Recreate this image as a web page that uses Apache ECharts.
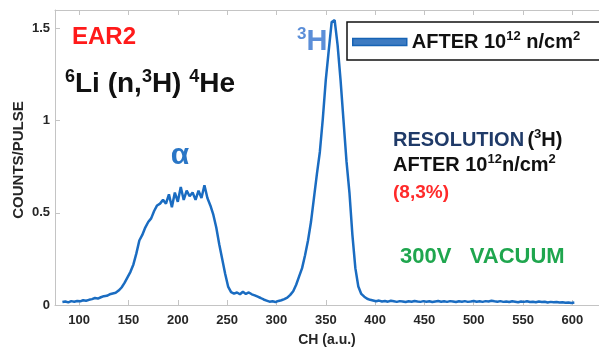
<!DOCTYPE html>
<html>
<head>
<meta charset="utf-8">
<script src="https://cdn.jsdelivr.net/npm/echarts@6/dist/echarts.min.js"></script>
<style>
  html, body { margin: 0; padding: 0; background: #fff; }
  #chart { width: 599px; height: 352px; }
</style>
</head>
<body>
<div id="chart"></div>
<script>
// channel numbers (x) and counts per pulse (y)
const channels = [
  83, 86, 89, 92, 95, 98, 101, 104, 107, 110,
  113, 116, 119, 122, 125, 128, 131, 134, 137, 140,
  143, 146, 149, 152, 155, 158, 161, 164, 167, 170,
  173, 176, 179, 182, 185, 188, 191, 194, 197, 200,
  203, 206, 209, 212, 215, 218, 221, 224, 227, 230,
  233, 236, 239, 242, 245, 248, 251, 254, 257, 260,
  263, 266, 269, 272, 275, 278, 281, 284, 287, 290,
  293, 296, 299, 302, 305, 308, 311, 314, 317, 320,
  323, 326, 329, 332, 335, 338, 341, 344, 347, 350,
  353, 356, 359, 362, 365, 368, 371, 374, 377, 380,
  383, 386, 389, 392, 395, 398, 401, 404, 407, 410,
  413, 416, 419, 422, 425, 428, 431, 434, 437, 440,
  443, 446, 449, 452, 455, 458, 461, 464, 467, 470,
  473, 476, 479, 482, 485, 488, 491, 494, 497, 500,
  503, 506, 509, 512, 515, 518, 521, 524, 527, 530,
  533, 536, 539, 542, 545, 548, 551, 554, 557, 560,
  563, 566, 569, 572, 575, 578, 581, 584, 587, 590,
  593, 596, 599, 602
];
const counts = [
  0.016, 0.019, 0.014, 0.021, 0.018, 0.022, 0.020, 0.026, 0.023, 0.028,
  0.032, 0.038, 0.035, 0.042, 0.048, 0.050, 0.058, 0.062, 0.066, 0.078,
  0.095, 0.120, 0.150, 0.180, 0.220, 0.280, 0.350, 0.380, 0.420, 0.450,
  0.470, 0.510, 0.540, 0.550, 0.570, 0.550, 0.600, 0.530, 0.610, 0.560,
  0.640, 0.570, 0.620, 0.590, 0.610, 0.570, 0.620, 0.580, 0.650, 0.580,
  0.540, 0.490, 0.420, 0.330, 0.250, 0.170, 0.100, 0.070, 0.062, 0.068,
  0.058, 0.072, 0.060, 0.068, 0.058, 0.052, 0.045, 0.038, 0.030, 0.024,
  0.018, 0.020, 0.016, 0.022, 0.026, 0.032, 0.040, 0.055, 0.075, 0.110,
  0.155, 0.200, 0.270, 0.350, 0.450, 0.580, 0.710, 0.830, 1.010, 1.220,
  1.380, 1.535, 1.545, 1.410, 1.220, 1.000, 0.780, 0.610, 0.380, 0.200,
  0.100, 0.060, 0.045, 0.034, 0.028, 0.024, 0.020, 0.024, 0.019, 0.022,
  0.018, 0.023, 0.020, 0.017, 0.021, 0.019, 0.016, 0.020, 0.018, 0.022,
  0.019, 0.017, 0.021, 0.018, 0.020, 0.016, 0.019, 0.022, 0.018, 0.020,
  0.017, 0.021, 0.019, 0.016, 0.020, 0.018, 0.021, 0.017, 0.019, 0.022,
  0.018, 0.020, 0.017, 0.021, 0.019, 0.023, 0.020, 0.018, 0.021, 0.017,
  0.019, 0.016, 0.020, 0.018, 0.015, 0.019, 0.017, 0.020, 0.016, 0.018,
  0.015, 0.019, 0.016, 0.018, 0.014, 0.017, 0.015, 0.016, 0.013, 0.015,
  0.012, 0.014, 0.011, 0.013
];
const xTicks = [100, 150, 200, 250, 300, 350, 400, 450, 500, 550, 600];
const yTicks = [0, 0.5, 1, 1.5];
const seriesName = 'AFTER 10^12 n/cm^2';

const font = 'Arial, "Liberation Sans", sans-serif';
const axisGray = '#c4c4c4';
const labelStyle = { fontFamily: font, fontSize: 13, fontWeight: 'bold', color: '#262626' };

const chart = echarts.init(document.getElementById('chart'));

// rich text pieces; graphic text wants fill, legend text wants color
const sup = (size, color) => ({
  fontFamily: font, fontSize: size, fontWeight: 'bold', color: color, fill: color,
  verticalAlign: 'top', lineHeight: size
});
const txt = (size, color) => ({
  fontFamily: font, fontSize: size, fontWeight: 'bold', color: color, fill: color,
  lineHeight: size + 4
});

chart.setOption({
  animation: false,
  grid: { left: 55, top: 10, right: 0, bottom: 43 },
  xAxis: [
    {
      type: 'value',
      min: 75.5,
      max: 627,
      name: 'CH (a.u.)',
      nameLocation: 'middle',
      nameGap: 28,
      nameTextStyle: { fontFamily: font, fontSize: 14, fontWeight: 'bold', color: '#262626' },
      axisLine: { show: true, onZero: false, lineStyle: { color: axisGray, width: 1 } },
      axisTick: { inside: true, length: 5, customValues: xTicks, lineStyle: { color: axisGray } },
      axisLabel: Object.assign({ customValues: xTicks, margin: 9 }, labelStyle),
      splitLine: { show: false }
    },
    {
      type: 'value',
      position: 'top',
      min: 75.5,
      max: 627,
      axisLine: { show: true, onZero: false, lineStyle: { color: axisGray, width: 1 } },
      axisTick: { inside: true, length: 5, customValues: xTicks, lineStyle: { color: axisGray } },
      axisLabel: { show: false },
      splitLine: { show: false }
    }
  ],
  yAxis: {
    type: 'value',
    min: 0,
    max: 1.6,
    axisLine: { show: true, onZero: false, lineStyle: { color: axisGray, width: 1 } },
    axisTick: { show: true, inside: true, length: 5, customValues: yTicks, lineStyle: { color: axisGray } },
    axisLabel: Object.assign({ customValues: yTicks, margin: 5 }, labelStyle),
    splitLine: { show: false }
  },
  legend: {
    left: 347,
    top: 22,
    padding: [8, 40, 8, 5],
    icon: 'rect',
    itemWidth: 54,
    itemHeight: 7,
    backgroundColor: '#fff',
    borderColor: '#111',
    borderWidth: 1.5,
    itemStyle: { color: '#3d7bc2', borderColor: '#1763b5', borderWidth: 1.5 },
    formatter: () => '{t|AFTER 10}{s|12}{t| n/cm}{s2|2}',
    textStyle: {
      rich: {
        t: txt(20, '#111'),
        s: sup(13, '#111'),
        s2: sup(13, '#111')
      }
    },
    data: [seriesName]
  },
  series: [
    {
      name: seriesName,
      type: 'line',
      showSymbol: false,
      data: channels.map((c, i) => [c, counts[i]]),
      lineStyle: { color: '#1a6cc1', width: 2.5 },
      itemStyle: { color: '#1a6cc1' }
    }
  ],
  graphic: [
    {
      type: 'text', x: 19, y: 160, rotation: Math.PI / 2,
      style: { text: 'COUNTS/PULSE', fontFamily: font, fontSize: 15, fontWeight: 'bold', fill: '#262626', textAlign: 'center', textVerticalAlign: 'middle' }
    },
    {
      type: 'text', x: 72, y: 37,
      style: { text: 'EAR2', fontFamily: font, fontSize: 24, fontWeight: 'bold', fill: '#ff1a1a', textVerticalAlign: 'middle' }
    },
    {
      type: 'text', x: 65, y: 84,
      style: {
        text: '{s|6}{b|Li (n,}{s|3}{b|H) }{s|4}{b|He}',
        textVerticalAlign: 'middle',
        rich: { b: txt(28, '#111'), s: sup(18, '#111') }
      }
    },
    {
      type: 'text', x: 180, y: 156,
      style: { text: 'α', fontFamily: font, fontSize: 30, fontWeight: 'bold', fill: '#2a76c6', textAlign: 'center', textVerticalAlign: 'middle' }
    },
    {
      type: 'text', x: 297, y: 42,
      style: {
        text: '{s|3}{b|H}',
        textVerticalAlign: 'middle',
        rich: { b: txt(29, '#5b8ed8'), s: sup(17, '#5b8ed8') }
      }
    },
    {
      type: 'text', x: 393, y: 140,
      style: {
        text: '{r|RESOLUTION} {b|(}{s|3}{b|H)}',
        textVerticalAlign: 'middle',
        rich: { r: txt(20, '#1f3a68'), b: txt(20, '#111'), s: sup(13, '#111') }
      }
    },
    {
      type: 'text', x: 393, y: 165,
      style: {
        text: '{b|AFTER 10}{s|12}{b|n/cm}{s|2}',
        textVerticalAlign: 'middle',
        rich: { b: txt(20, '#111'), s: sup(13, '#111') }
      }
    },
    {
      type: 'text', x: 393, y: 193,
      style: { text: '(8,3%)', fontFamily: font, fontSize: 19, fontWeight: 'bold', fill: '#ff2a2a', textVerticalAlign: 'middle' }
    },
    {
      type: 'text', x: 400, y: 257,
      style: { text: '300V   VACUUM', fontFamily: font, fontSize: 22, fontWeight: 'bold', fill: '#1fa64e', textVerticalAlign: 'middle' }
    }
  ]
});
</script>
</body>
</html>
